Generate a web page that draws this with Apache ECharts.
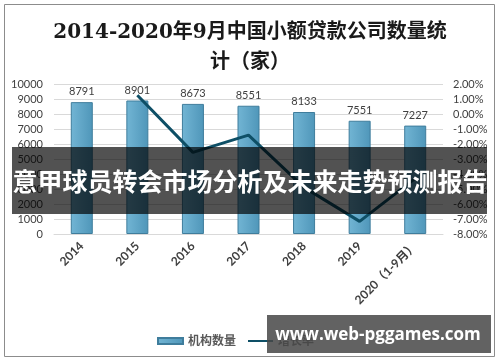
<!DOCTYPE html>
<html>
<head>
<meta charset="utf-8">
<script src="https://cdn.jsdelivr.net/npm/echarts@6/dist/echarts.min.js"></script>
<style>html,body{margin:0;padding:0;background:#fff}#c{width:500px;height:362px}</style>
</head>
<body>
<div id="c"></div>
<script>
var categories = ['2014', '2015', '2016', '2017', '2018', '2019', '2020（1-9月）'];
var institutionCount = [8791, 8901, 8673, 8551, 8133, 7551, 7227];
var growthRate = [null, 1.25, -2.56, -1.41, -4.89, -7.16, -4.29];
var seriesNames = ['机构数量', '增长率'];
var titleLines = ['2014-2020年9月中国小额贷款公司数量统', '计（家）'];
var bannerText = '意甲球员转会市场分析及未来走势预测报告';
var watermarkText = 'www.web-pggames.com';

var chart = echarts.init(document.getElementById('c'), null, {renderer: 'canvas'});
var numFont = 'Lato, "Open Sans", "Noto Sans CJK SC", sans-serif';
chart.setOption({
  animation: false,
  backgroundColor: '#fff',
  title: {
    text: titleLines.join('\n'),
    left: 'center',
    top: 13,
    textStyle: {
      fontFamily: '"DejaVu Serif", "Noto Sans CJK SC", serif',
      fontSize: 20, fontWeight: 'bold', color: '#1a1a1a', lineHeight: 30, align: 'center'
    }
  },
  grid: {left: 54, right: 57, top: 84, bottom: 128},
  legend: {
    left: 152, top: 330,
    itemWidth: 25, itemHeight: 6, itemGap: 11,
    textStyle: {fontFamily: numFont, fontSize: 12, fontWeight: 'bold', color: '#595959'},
    data: [
      {name: seriesNames[0], icon: 'rect'},
      {name: seriesNames[1], itemStyle: {opacity: 0}}
    ]
  },
  xAxis: {
    type: 'category',
    data: categories,
    axisLine: {lineStyle: {color: '#d9d9d9'}},
    axisTick: {show: false},
    axisLabel: {rotate: 45, margin: 10, fontFamily: numFont, fontSize: 12, fontWeight: 'bold', color: '#404040', interval: 0}
  },
  yAxis: [
    {
      type: 'value', min: 0, max: 10000, interval: 1000,
      axisLine: {show: false}, axisTick: {show: false},
      splitLine: {lineStyle: {color: '#d9d9d9'}},
      axisLabel: {margin: 11, fontFamily: numFont, fontSize: 11, color: '#404040',
        formatter: function (v) { return String(v); }}
    },
    {
      type: 'value', min: -8, max: 2, interval: 1,
      axisLine: {show: false}, axisTick: {show: false},
      splitLine: {show: false},
      axisLabel: {margin: 10, fontFamily: numFont, fontSize: 11, color: '#404040',
        formatter: function (v) { return v.toFixed(2) + '%'; }}
    }
  ],
  series: [
    {
      name: seriesNames[0], type: 'bar', data: institutionCount, barWidth: 22,
      itemStyle: {
        color: new echarts.graphic.LinearGradient(0, 0, 1, 0, [
          {offset: 0, color: '#72b5d4'}, {offset: 1, color: '#4f96b9'}
        ]),
        borderColor: '#3f7d9c', borderWidth: 1
      },
      label: {show: true, position: 'top', distance: 5, fontFamily: numFont, fontSize: 11, color: '#404040'}
    },
    {
      name: seriesNames[1], type: 'line', yAxisIndex: 1, data: growthRate,
      symbol: 'none', connectNulls: false,
      lineStyle: {color: '#0e4f66', width: 3},
      itemStyle: {color: '#0e4f66'}
    }
  ],
  graphic: [
    {type: 'rect', z: 100, silent: true, shape: {x: 4.5, y: 4.5, width: 490, height: 352},
      style: {fill: 'none', stroke: '#8c8c8c', lineWidth: 1}},
    {type: 'rect', z: 100, silent: true, shape: {x: 12, y: 147, width: 475, height: 67},
      style: {fill: 'rgba(0,0,0,0.68)'}},
    {type: 'text', z: 101, silent: true, x: 250, y: 181,
      style: {text: bannerText, fill: '#fff', font: 'bold 25px "Noto Sans CJK SC", sans-serif',
        textAlign: 'center', textVerticalAlign: 'middle'}},
    {type: 'rect', z: 100, silent: true, shape: {x: 267, y: 315, width: 224, height: 38},
      style: {fill: 'rgba(70,70,70,0.85)'}},
    {type: 'text', z: 101, silent: true, x: 378, y: 335,
      style: {text: watermarkText, fill: '#fff', font: 'bold 17px "Open Sans", sans-serif',
        textAlign: 'center', textVerticalAlign: 'middle'}}
  ]
});
</script>
</body>
</html>
